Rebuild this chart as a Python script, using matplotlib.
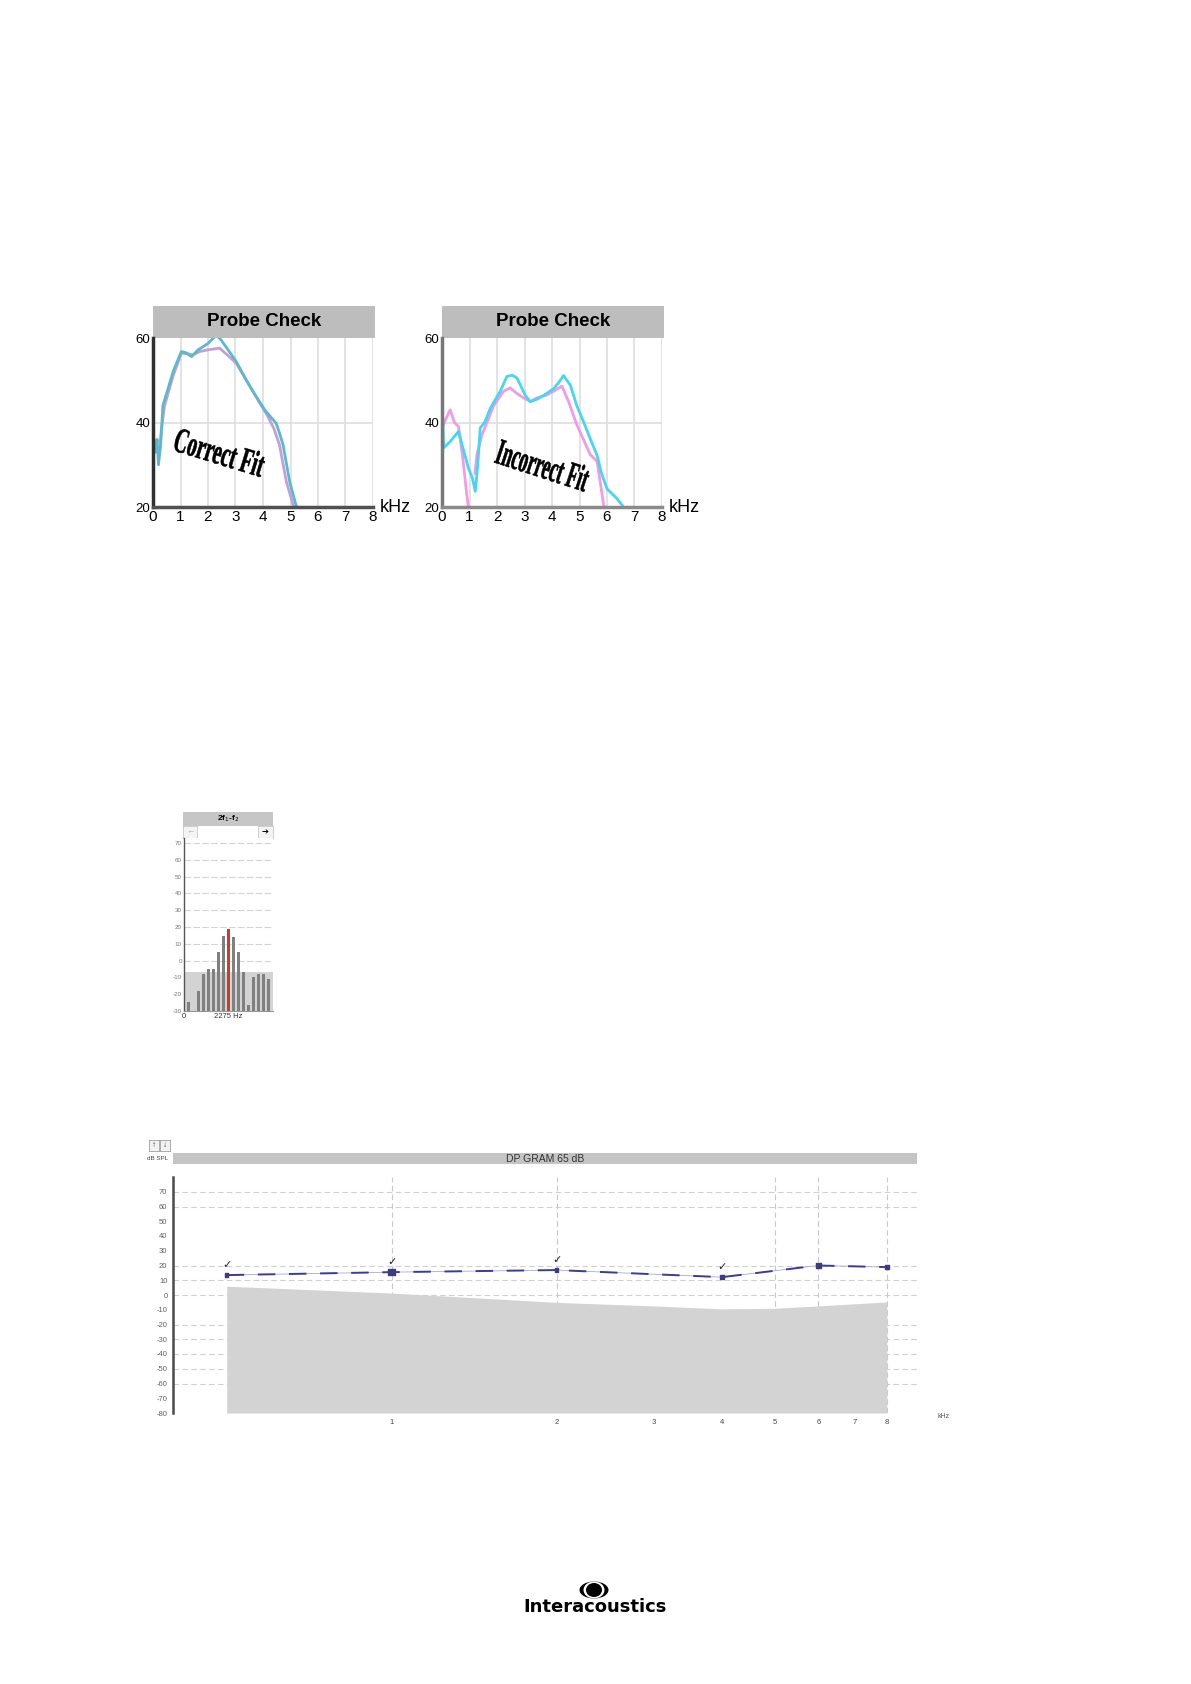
import numpy as np
import matplotlib
matplotlib.use('Agg')
import matplotlib.pyplot as plt
from matplotlib.textpath import TextPath
from matplotlib.font_manager import FontProperties
from matplotlib.patches import PathPatch, Ellipse
from matplotlib.transforms import Affine2D

plt.rcParams['font.family'] = ['Liberation Sans', 'DejaVu Sans']

# ---- probe check data (kHz, dB) ----
correct_cyan_khz = [0.0, 0.08, 0.15, 0.2, 0.28, 0.36, 0.5, 0.73, 1.03, 1.2, 1.4, 1.64, 2.0, 2.3,
                    2.48, 2.75, 3.03, 3.35, 3.64, 4.06, 4.48, 4.6, 4.73, 4.97, 5.2, 5.3]
correct_cyan_db = [37, 33, 36, 30, 35, 44, 47, 52, 56.8, 56.5, 55.6, 57.2, 58.7, 60.7,
                   59.5, 57, 54.4, 50.5, 47.3, 43, 39.8, 37.5, 34.7, 26, 20.4, 19.5]
correct_pink_khz = [0.0, 0.05, 0.12, 0.24, 0.3, 0.42, 0.73, 1.03, 1.25, 1.45, 1.7, 2.0, 2.42,
                    2.7, 3.03, 3.35, 3.64, 4.18, 4.4, 4.6, 4.85, 5.1, 5.2]
correct_pink_db = [31.6, 36, 33, 33, 38, 44, 51, 56.4, 56.3, 56, 56.8, 57.2, 57.6,
                   56, 54, 50.5, 47.3, 41.4, 38.5, 34.7, 26, 20.4, 19.5]

incorrect_cyan_khz = [0.0, 0.06, 0.3, 0.6, 0.8, 0.97, 1.1, 1.21, 1.3, 1.39, 1.55, 1.76, 2.12,
                      2.36, 2.55, 2.73, 3.03, 3.21, 3.45, 3.7, 4.06, 4.25, 4.42, 4.67, 4.9,
                      5.15, 5.4, 5.64, 5.8, 6.0, 6.36, 6.6, 6.7]
incorrect_cyan_db = [45.8, 34, 35.5, 37.9, 33, 29, 27, 23.7, 30, 38.7, 40, 43.4, 47.4,
                     50.9, 51.2, 50.5, 46.4, 44.9, 45.5, 46.4, 48, 49.5, 51.1, 48.8, 44,
                     40.1, 36, 32.2, 28, 24.3, 22, 20, 19.5]
incorrect_pink_khz = [0.0, 0.15, 0.3, 0.45, 0.6, 0.75, 0.9, 0.97, 1.05, 1.2, 1.27, 1.45, 1.88,
                      2.24, 2.48, 2.7, 2.97, 3.2, 3.45, 3.8, 4.06, 4.36, 4.6, 4.9, 5.39,
                      5.64, 5.75, 5.88, 5.95]
incorrect_pink_db = [38.5, 41, 43, 40, 39, 32, 23, 19.5, np.nan, 28, 32.4, 37, 44,
                     47.4, 48.2, 47, 45.8, 45, 45.8, 46.5, 47.4, 48.6, 45, 39.5, 32.4,
                     30.8, 26, 20.4, 19.5]

# ---- 2f1-f2 spectrum bins (dB) ----
hist_db = [-24.8, -30, -17.8, -8, -5.2, -5.2, 5, 14.6, 18.6, 14, 5, -7, -26.4, -9.8, -7.8, -7.8, -10.8]
hist_signal_bin = 8
hist_noise_floor = -7
hist_ticks = list(range(-30, 71, 10))

# ---- DP GRAM ----
dp_freq_khz = [0.5, 1, 2, 4, 6, 8]
dp_level_db = [13.5, 15.5, 16.9, 12.1, 20, 18.9]
dp_checked = [True, True, True, True, False, False]
noise_freq_khz = [0.5, 1, 2, 3, 4, 5, 6, 8]
noise_db = [6, 1.3, -5, -7.4, -9.4, -9, -7.4, -4.7]
dp_yticks = list(range(-80, 71, 10))
dp_ygrid = [70, 60, 20, 10, 0, -20, -30, -40, -50, -60]
dp_xticks = [1, 2, 3, 4, 5, 6, 7, 8]
dp_xgrid = [1, 2, 5, 6, 8]

W, H = 1191, 1684
fig = plt.figure(figsize=(W / 100, H / 100), dpi=100)


def px_axes(x0, y0, x1, y1):
    return fig.add_axes([x0 / W, 1 - y1 / H, (x1 - x0) / W, (y1 - y0) / H])


def header(x0, y0, x1, y1, color, text, size, weight='bold', tcolor='black'):
    b = px_axes(x0, y0, x1, y1)
    b.set_facecolor(color)
    b.set_xticks([])
    b.set_yticks([])
    for sp in b.spines.values():
        sp.set_visible(False)
    if text:
        b.text(0.5, 0.5, text, ha='center', va='center', fontsize=size,
               fontweight=weight, color=tcolor, transform=b.transAxes)
    return b


def squeezed_text(s, cx, cy, w, h, angle):
    tp = TextPath((0, 0), s, size=1, prop=FontProperties(family='Liberation Serif', weight='bold'))
    ext = tp.get_extents()
    tr = (Affine2D().translate(-ext.x0 - ext.width / 2, -ext.y0 - ext.height / 2)
          .scale(w / ext.width, h / ext.height).rotate_deg(angle).translate(cx, H - cy))
    fig.add_artist(PathPatch(tp, transform=tr, fc='black', ec='black', lw=0.4, zorder=10))


def probe_panel(x0, x1, curves, lcol, bcol):
    header(x0, 306, x1 + 2, 338, '#bdbdbd', 'Probe Check', 13.5)
    ax = px_axes(x0, 338, x1, 507)
    ax.set_xlim(0, 8)
    ax.set_ylim(20, 60)
    for k in range(1, 9):
        ax.axvline(k, color='#dedede', lw=1.2, zorder=0)
    ax.axhline(40, color='#dedede', lw=1.2, zorder=0)
    for xs, ys, c in curves:
        ax.plot(xs, ys, color=c, lw=2)
    ax.spines['top'].set_visible(False)
    ax.spines['right'].set_visible(False)
    ax.spines['left'].set_color(lcol)
    ax.spines['bottom'].set_color(bcol)
    ax.spines['left'].set_linewidth(2.5)
    ax.spines['bottom'].set_linewidth(2.5)
    ax.set_yticks([20, 40, 60])
    ax.set_yticklabels(['20', '40', '60'], fontsize=9.5)
    ax.set_xticks(range(9))
    ax.set_xticklabels([str(k) for k in range(9)], fontsize=11)
    ax.tick_params(length=0, pad=2)
    ax.text(1.03, 0, 'kHz', transform=ax.transAxes, ha='left', va='center', fontsize=13)
    return ax


probe_panel(153, 373, [(correct_pink_khz, correct_pink_db, '#c0a0dc'),
                       (correct_cyan_khz, correct_cyan_db, '#5cb8cc')], '#303030', '#505050')
probe_panel(442, 662, [(incorrect_pink_khz, incorrect_pink_db, '#f29ae6'),
                       (incorrect_cyan_khz, incorrect_cyan_db, '#44d6f2')], '#787878', '#8a8a8a')
squeezed_text('Correct Fit', 220, 452, 92, 25, -17)
squeezed_text('Incorrect Fit', 543, 465, 95, 26, -18)

# ---- 2f1-f2 spectrum ----
header(183, 812, 273, 826, '#c6c6c6', '2f$_1$-f$_2$', 6)
bl = header(183, 826, 197, 838, '#f4f4f4', '←', 6, weight='normal', tcolor='#b0b0b0')
br = header(258, 826, 273, 838, '#f4f4f4', '➔', 6, tcolor='black')
for b in (bl, br):
    for sp in b.spines.values():
        sp.set_visible(True)
        sp.set_color('#c8c8c8')
        sp.set_linewidth(0.6)
hx = px_axes(184, 838, 273, 1011)
hx.set_xlim(-0.8, 16.9)
hx.set_ylim(-30, 73)
for v in hist_ticks[1:]:
    hx.axhline(v, color='#d4d4d4', lw=0.8, ls=(0, (6, 2)), zorder=0)
hx.axhspan(-30, hist_noise_floor, color='#d3d3d3', zorder=1, lw=0)
bins = np.arange(len(hist_db))
colors = ['#d23a22' if i == hist_signal_bin else '#808080' for i in bins]
hx.bar(bins, np.array(hist_db) + 30, bottom=-30, width=0.6, color=colors, zorder=2)
hx.spines['top'].set_visible(False)
hx.spines['right'].set_visible(False)
hx.spines['left'].set_color('#555555')
hx.spines['bottom'].set_color('#999999')
hx.spines['left'].set_linewidth(1)
hx.spines['bottom'].set_linewidth(0.8)
hx.set_yticks(hist_ticks)
hx.set_yticklabels([str(v) for v in hist_ticks], fontsize=4.5, color='#777777')
hx.set_xticks([-0.8, hist_signal_bin])
hx.set_xticklabels(['0', '2275 Hz'], fontsize=5.5, color='#333333')
hx.tick_params(length=0, pad=1.5)

# ---- DP GRAM ----
header(173, 1153, 917, 1164, '#c4c4c4', 'DP GRAM 65 dB', 7.5, weight='normal', tcolor='#333333')
for bx, sym, w in [(149, '↑', 'bold'), (160, '↓', 'normal')]:
    bb = header(bx, 1140, bx + 10, 1151, '#f2f2f2', sym, 6, weight=w, tcolor='#333333')
    for sp in bb.spines.values():
        sp.set_visible(True)
        sp.set_color('#a0a0a0')
        sp.set_linewidth(0.6)
fig.text(147 / W, 1 - 1158 / H, 'dB SPL', fontsize=4.5, color='#444444', va='center')

dx = px_axes(173, 1177, 917, 1413)
dx.set_xscale('log')
dx.set_xlim(0.399, 9.08)
dx.set_ylim(-80, 80)
for v in dp_ygrid:
    dx.axhline(v, color='#d0d0d0', lw=0.8, ls=(0, (5, 3)), zorder=0)
for f in dp_xgrid:
    dx.axvline(f, color='#c8c8c8', lw=0.8, ls=(0, (5, 3)), zorder=0)
dx.fill_between(noise_freq_khz, noise_db, -80, color='#d3d3d3', lw=0, zorder=1)
dx.plot(dp_freq_khz, dp_level_db, color='#a8a8d8', lw=0.6, zorder=2)
dx.plot(dp_freq_khz, dp_level_db, color='#3c3c96', lw=1.4, ls=(0, (9, 7)), zorder=3)
dx.scatter(dp_freq_khz, dp_level_db, s=[6, 22, 6, 6, 10, 8], marker='s', color='#3c3c80', zorder=4)
for f, v, c in zip(dp_freq_khz, dp_level_db, dp_checked):
    if c:
        dx.text(f, v + 7, '✓', ha='center', va='center', fontsize=8, fontweight='bold',
                family='DejaVu Sans', color='#222222')
for s in ['top', 'right', 'bottom']:
    dx.spines[s].set_visible(False)
dx.spines['left'].set_color('#4a4a4a')
dx.spines['left'].set_linewidth(1.8)
dx.set_yticks(dp_yticks)
dx.set_yticklabels([str(v) for v in dp_yticks], fontsize=5.5, color='#606060')
dx.set_xticks(dp_xticks)
dx.set_xticklabels([str(v) for v in dp_xticks], fontsize=5.5, color='#444444')
dx.minorticks_off()
dx.tick_params(length=0, pad=4)
fig.text(937 / W, 1 - 1417 / H, 'kHz', fontsize=5, color='#555555', va='center')

# ---- logo ----
cx, cy = 594 / W, 1 - 1590 / H
fig.add_artist(Ellipse((cx, cy), 29 / W, 17 / H, transform=fig.transFigure, fc='black', ec='none'))
fig.add_artist(Ellipse((cx, cy), 21 / W, 17 / H, transform=fig.transFigure, fc='white', ec='none'))
fig.add_artist(Ellipse((cx, cy), 16 / W, 14 / H, transform=fig.transFigure, fc='black', ec='none'))
fig.text(595 / W, 1 - 1607 / H, 'Interacoustics', ha='center', va='center', fontsize=13,
         fontweight='bold', family='DejaVu Sans')

fig.savefig('out.png', dpi=100)
